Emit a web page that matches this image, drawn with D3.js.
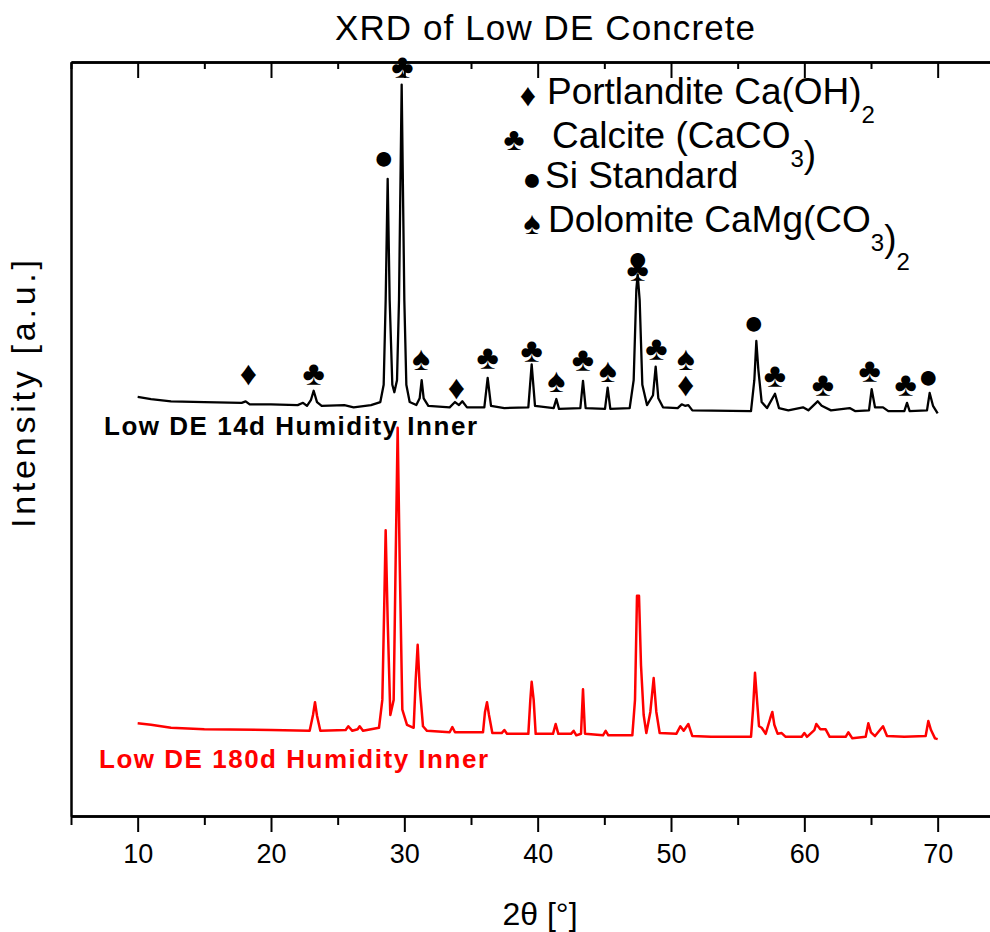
<!DOCTYPE html>
<html>
<head>
<meta charset="utf-8">
<script src="https://cdn.jsdelivr.net/npm/d3@7"></script>
<style>
body { margin: 0; background: #fff; }
text { font-family: "Liberation Sans", Arial, sans-serif; }
</style>
</head>
<body>
<div id="chart"></div>
<script>
// XRD patterns: [2theta (deg), intensity (a.u., stacked)]
const inner14d = [
  [10.0,556],[11.0,553],[12.5,550],[15.0,549],[17.8,548],[18.1,550],[18.4,546],[20.0,546],
  [22.0,545],[22.4,548],[22.7,544],[23.0,552],[23.2,564],[23.45,549],[23.8,544],[25.5,545],
  [26.2,542],[27.5,545],[28.2,549],[28.45,572],[28.6,684],[28.75,845],[28.9,684],[29.1,572],
  [29.25,562],[29.45,578],[29.6,684],[29.8,970],[30.0,684],[30.15,572],[30.4,549],[30.9,545],
  [31.15,554],[31.3,578],[31.45,554],[31.8,544],[33.4,542],[33.8,549],[34.1,545],[34.35,550],
  [34.7,542],[36.0,542],[36.25,581],[36.5,544],[37.5,541],[39.3,542],[39.55,599],[39.8,544],
  [41.2,541],[41.4,553],[41.6,540],[43.2,541],[43.4,577],[43.6,541],[45.05,540],[45.25,568],
  [45.45,540],[46.9,541],[47.2,578],[47.4,698],[47.5,718],[47.65,684],[47.85,572],[48.2,545],
  [48.65,558],[48.85,596],[49.05,554],[49.4,542],[50.5,541],[50.8,546],[51.05,544],[51.3,545],
  [51.6,538],[56.0,537],[56.25,578],[56.4,630],[56.55,592],[56.8,549],[57.2,541],[57.8,560],
  [58.1,541],[58.8,538],[59.9,542],[60.3,538],[61.0,550],[61.3,544],[62.0,538],[63.4,541],
  [63.8,537],[64.85,538],[65.05,566],[65.3,542],[65.9,542],[66.3,537],[67.5,537],[67.7,548],
  [67.9,537],[69.2,538],[69.4,561],[69.65,544],[70.0,534]
];

const inner180d = [
  [10.0,123],[11.0,121],[12.5,117],[15.0,115],[20.0,114],[22.9,113],[23.15,134],[23.3,151],
  [23.45,133],[23.7,113],[25.6,114],[25.8,119],[26.1,113],[26.5,115],[26.65,119],[26.9,113],
  [28.1,117],[28.35,154],[28.5,286],[28.6,379],[28.75,260],[28.95,134],[29.2,154],[29.35,340],
  [29.5,515],[29.65,340],[29.85,141],[30.2,121],[30.7,117],[30.85,180],[31.0,227],[31.15,172],
  [31.4,119],[31.7,113],[33.4,111],[33.6,118],[33.8,111],[35.9,111],[36.05,138],[36.2,151],
  [36.35,134],[36.6,110],[37.3,110],[37.5,114],[37.7,109],[39.3,109],[39.45,154],[39.55,178],
  [39.7,154],[39.85,109],[41.15,109],[41.35,122],[41.55,109],[42.5,109],[42.7,113],[42.9,107],
  [43.25,109],[43.4,168],[43.55,109],[44.9,107],[45.1,113],[45.3,107],[47.1,107],[47.3,154],
  [47.45,292],[47.6,292],[47.75,200],[47.95,134],[48.15,110],[48.45,138],[48.7,183],[48.9,138],
  [49.15,110],[50.4,109],[50.7,119],[50.95,113],[51.3,122],[51.6,106],[53.0,105],[56.0,105],
  [56.15,141],[56.3,190],[56.45,154],[56.6,119],[56.8,117],[57.1,109],[57.45,130],[57.6,138],
  [57.75,121],[58.0,109],[58.3,110],[58.6,105],[59.8,105],[60.0,110],[60.2,105],[60.75,114],
  [60.9,122],[61.2,115],[61.6,115],[61.9,105],[63.1,105],[63.3,111],[63.6,103],[64.6,105],
  [64.8,123],[65.0,111],[65.3,106],[65.9,119],[66.2,106],[67.5,105],[69.1,106],[69.3,126],
  [69.5,114],[69.8,103],[70.0,102]
];

// phase markers above the 14d pattern: [2theta, height in a.u.]
const portlandite = [[18.3,588],[33.9,569],[51.1,573]];
const calcite = [[23.2,588],[29.85,995],[36.25,609],[39.55,618],[43.4,606],[47.5,725],
                 [48.9,621],[57.8,585],[61.4,573],[64.9,592],[67.6,573]];
const siStandard = [[28.45,874],[47.5,740],[56.2,655],[69.3,584]];
const dolomite = [[31.25,607],[41.4,578],[45.25,592],[51.1,607]];

const majorTicks = [10, 20, 30, 40, 50, 60, 70];
const minorTicks = [5, 15, 25, 35, 45, 55, 65, 75];

const seriesNames = ["Low DE 14d Humidity Inner", "Low DE 180d Humidity Inner"];
const legendRows = [
  {glyph: "\u2666", parts: [["Portlandite Ca(OH)", false], ["2", true]]},
  {glyph: "\u2663", parts: [["Calcite (CaCO", false], ["3", true], [")", false]]},
  {glyph: "\u25CF", parts: [["Si Standard", false]]},
  {glyph: "\u2660", parts: [["Dolomite CaMg(CO", false], ["3", true], [")", false], ["2", true]]}
];

const W = 990, H = 932;
const margin = {top: 62, left: 71, bottom: 116};
const plotBottom = H - margin.bottom;

const svg = d3.select("#chart")
              .append("svg")
              .attr("width", W)
              .attr("height", H);

const x = d3.scaleLinear()
            .domain([5, 75])
            .range([margin.left, margin.left + 70 * 800 / 60]);

const y = d3.scaleLinear()
            .domain([0, 1000])
            .range([plotBottom, margin.top]);

// title
svg.append("text")
   .attr("x", 545)
   .attr("y", 40)
   .attr("text-anchor", "middle")
   .attr("font-size", 35)
   .attr("textLength", 420)
   .text("XRD of Low DE Concrete");

// patterns
const line = d3.line()
               .x(d => x(d[0]))
               .y(d => y(d[1]));

svg.append("path")
   .datum(inner180d)
   .attr("fill", "none")
   .attr("stroke", "#ff0000")
   .attr("stroke-width", 2.5)
   .attr("stroke-linejoin", "round")
   .attr("d", line);

svg.append("path")
   .datum(inner14d)
   .attr("fill", "none")
   .attr("stroke", "black")
   .attr("stroke-width", 2.3)
   .attr("stroke-linejoin", "round")
   .attr("d", line);

// axes
const bottomMajor = svg.append("g")
   .attr("transform", `translate(0,${plotBottom})`)
   .call(d3.axisBottom(x).tickValues(majorTicks).tickSize(16).tickSizeOuter(0).tickPadding(12));
const bottomMinor = svg.append("g")
   .attr("transform", `translate(0,${plotBottom})`)
   .call(d3.axisBottom(x).tickValues(minorTicks).tickSize(9).tickSizeOuter(0).tickFormat(""));
const topMajor = svg.append("g")
   .attr("transform", `translate(0,${margin.top})`)
   .call(d3.axisTop(x).tickValues(majorTicks).tickSize(-16).tickSizeOuter(0).tickFormat(""));
const topMinor = svg.append("g")
   .attr("transform", `translate(0,${margin.top})`)
   .call(d3.axisTop(x).tickValues(minorTicks).tickSize(-7).tickSizeOuter(0).tickFormat(""));
const leftAxis = svg.append("g")
   .attr("transform", `translate(${margin.left},0)`)
   .call(d3.axisLeft(y).tickValues([]).tickSizeOuter(0));

[bottomMajor, bottomMinor, topMajor, topMinor, leftAxis].forEach(g => {
    g.select(".domain").attr("stroke-width", 2.5);
    g.selectAll(".tick line").attr("stroke-width", 2);
});
bottomMajor.selectAll(".tick text")
           .attr("font-size", 27)
           .attr("font-family", "'Liberation Sans', Arial, sans-serif")
           .attr("fill", "black");

// axis titles
svg.append("text")
   .attr("x", 540)
   .attr("y", 925)
   .attr("text-anchor", "middle")
   .attr("font-size", 32)
   .text("2\u03B8 [\u00B0]");

svg.append("text")
   .attr("transform", "translate(35,394) rotate(-90)")
   .attr("text-anchor", "middle")
   .attr("font-size", 34)
   .attr("textLength", 268)
   .text("Intensity [a.u.]");

// series labels
svg.append("text")
   .attr("x", 104)
   .attr("y", 435)
   .attr("font-size", 26)
   .attr("font-weight", "bold")
   .attr("textLength", 373)
   .text(seriesNames[0]);

svg.append("text")
   .attr("x", 99)
   .attr("y", 768)
   .attr("font-size", 26)
   .attr("font-weight", "bold")
   .attr("fill", "#ff0000")
   .attr("textLength", 389)
   .text(seriesNames[1]);

// phase markers
const markerSets = [
    {data: portlandite, glyph: "\u2666"},
    {data: calcite, glyph: "\u2663"},
    {data: siStandard, glyph: "\u25CF"},
    {data: dolomite, glyph: "\u2660"}
];
markerSets.forEach(set => {
    svg.selectAll(null)
       .data(set.data)
       .enter()
       .append("text")
       .attr("x", d => x(d[0]))
       .attr("y", d => y(d[1]))
       .attr("dy", "0.35em")
       .attr("text-anchor", "middle")
       .attr("font-size", 34)
       .text(set.glyph);
});

// legend
const legendY = [104, 148, 188, 232];
const legendGlyphX = [528, 514, 532, 532];
const legendTextX = [547, 552, 545, 548];

legendRows.forEach((row, i) => {
    svg.append("text")
       .attr("x", legendGlyphX[i])
       .attr("y", legendY[i] - 9)
       .attr("dy", "0.35em")
       .attr("text-anchor", "middle")
       .attr("font-size", 32)
       .text(row.glyph);

    const t = svg.append("text")
                 .attr("x", legendTextX[i])
                 .attr("y", legendY[i])
                 .attr("font-size", 37);
    row.parts.forEach(p => {
        t.append("tspan")
         .attr("font-size", p[1] ? 24 : 37)
         .attr("dy", p[1] ? 19 : 0)
         .text(p[0]);
        if (p[1]) t.append("tspan").attr("font-size", 37).attr("dy", -19).text("");
    });
});
</script>
</body>
</html>
